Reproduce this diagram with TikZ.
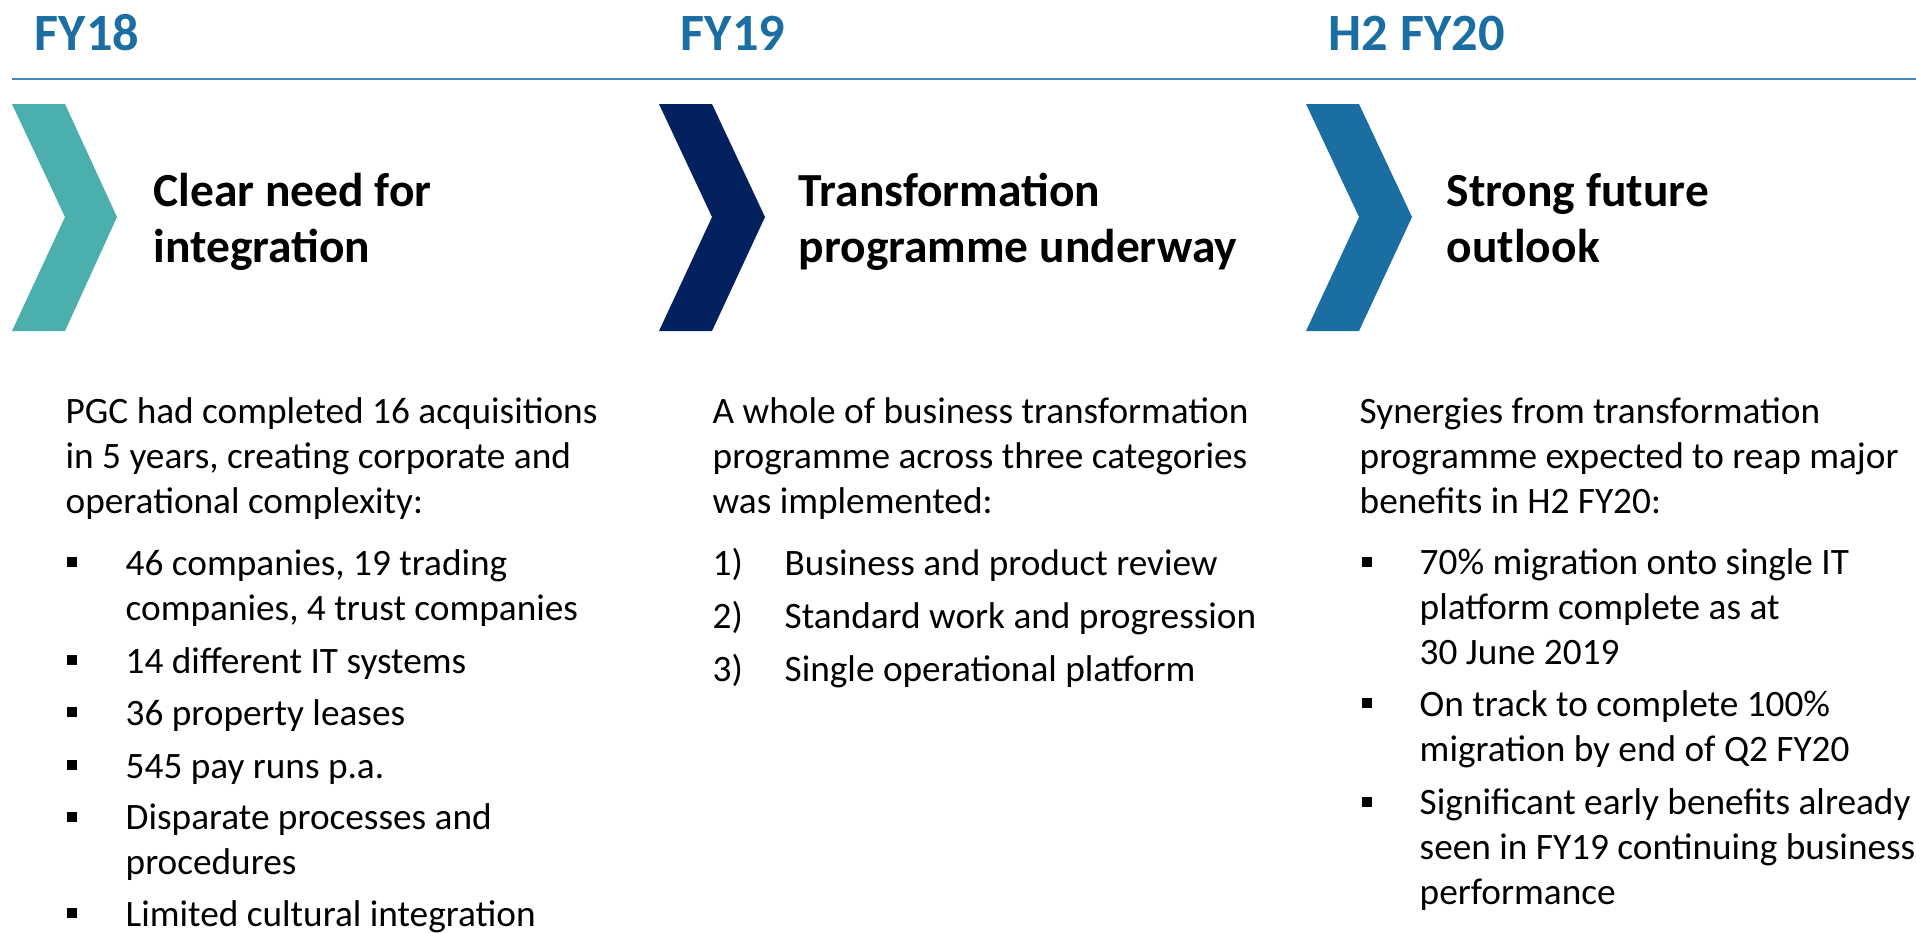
\documentclass[tikz,border=0pt]{standalone}
\usepackage{fontspec}
\setmainfont{Carlito}
\definecolor{fyblue}{HTML}{1B6EA2}
\definecolor{rulecol}{HTML}{4A86BB}
\definecolor{tealc}{HTML}{4AAFAD}
\definecolor{navyc}{HTML}{03205F}
\definecolor{bluec}{HTML}{1B6EA2}
\begin{document}
\begin{tikzpicture}[x=0.01cm,y=-0.01cm,
    yr/.style={anchor=base west,inner sep=0pt,text=fyblue,
      font=\fontsize{14.9pt}{17pt}\selectfont\bfseries},
    hd/.style={anchor=base west,inner sep=0pt,align=left,
      font=\fontsize{13.5pt}{15.9pt}\selectfont\bfseries},
    txt/.style={anchor=base west,inner sep=0pt,align=left,
      font=\fontsize{10.6pt}{12.66pt}\selectfont},
    sq/.style={fill=black,inner sep=0pt,minimum size=0.1cm}]
    \useasboundingbox (0,0) rectangle (1916,932);

    % years and rule
    \node[yr] (fy18) at (34,50) {FY18};
    \node[yr] (fy19) at (680,50) {FY19};
    \node[yr] (fy20) at (1328,50) {H2 FY20};
    \coordinate (rl) at (12,79);
    \coordinate (rr) at (1916,79);
    \draw[rulecol,line width=0.6pt] (rl) -- (rr);

    % chevrons
    \fill[tealc] (12,104) -- (65,104) -- (117,217) -- (65,331) -- (12,331) -- (65,217) -- cycle;
    \fill[navyc] (659,104) -- (712,104) -- (765,217) -- (712,331) -- (659,331) -- (712,217) -- cycle;
    \fill[bluec] (1306,104) -- (1359,104) -- (1412,217) -- (1359,331) -- (1306,331) -- (1359,217) -- cycle;

    % multi-line nodes sit on their last baseline
    \node[hd] (hd1) at (153,262) {Clear need for\\integration};
    \node[hd] (hd2) at (798,262) {Transformation\\programme underway};
    \node[hd] (hd3) at (1446,262) {Strong future\\outlook};

    % FY18 column
    \node[txt] (in1) at (65,513) {PGC had completed 16 acquisitions\\in 5 years, creating corporate and\\operational complexity:};
    \node[sq] (s1a) at (72,562) {};
    \node[txt] (t1a) at (125,620) {46 companies, 19 trading\\companies, 4 trust companies};
    \node[sq] (s1b) at (72,660) {};
    \node[txt] (t1b) at (125,673) {14 different IT systems};
    \node[sq] (s1c) at (72,712) {};
    \node[txt] (t1c) at (125,725) {36 property leases};
    \node[sq] (s1d) at (72,765) {};
    \node[txt] (t1d) at (125,778) {545 pay runs p.a.};
    \node[sq] (s1e) at (72,817) {};
    \node[txt] (t1e) at (125,874) {Disparate processes and\\procedures};
    \node[sq] (s1f) at (72,913) {};
    \node[txt] (t1f) at (125,926) {Limited cultural integration};

    % FY19 column
    \node[txt] (in2) at (712,513) {A whole of business transformation\\programme across three categories\\was implemented:};
    \node[txt] (n2a) at (712,575) {1)};
    \node[txt] (t2a) at (784,575) {Business and product review};
    \node[txt] (n2b) at (712,628) {2)};
    \node[txt] (t2b) at (784,628) {Standard work and progression};
    \node[txt] (n2c) at (712,681) {3)};
    \node[txt] (t2c) at (784,681) {Single operational platform};

    % H2 FY20 column
    \node[txt] (in3) at (1359,513) {Synergies from transformation\\programme expected to reap major\\benefits in H2 FY20:};
    \node[sq] (s3a) at (1367,562) {};
    \node[txt] (t3a) at (1419,664) {70\% migration onto single IT\\platform complete as at\\30 June 2019};
    \node[sq] (s3b) at (1367,703) {};
    \node[txt] (t3b) at (1419,761) {On track to complete 100\%\\migration by end of Q2 FY20};
    \node[sq] (s3c) at (1367,802) {};
    \node[txt] (t3c) at (1419,904) {Significant early benefits already\\seen in FY19 continuing business\\performance};
\end{tikzpicture}
\end{document}
